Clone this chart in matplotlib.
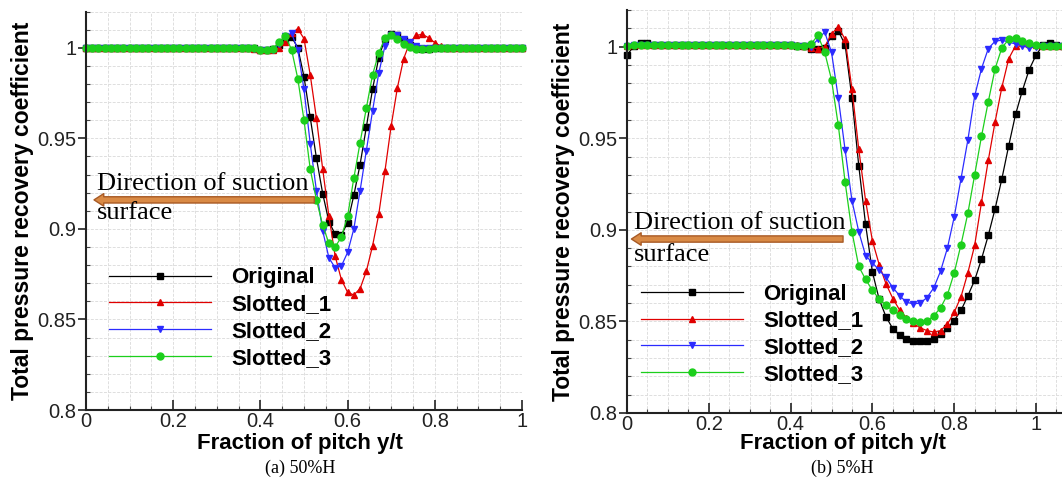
import numpy as np
import matplotlib
matplotlib.use("Agg")
import matplotlib.pyplot as plt
from matplotlib.ticker import MultipleLocator, FixedLocator, FixedFormatter
from matplotlib.patches import FancyArrowPatch

plt.rcParams['font.family'] = ['Liberation Sans', 'DejaVu Sans']

# ---------------- data: (a) 50%H ----------------
x_a = np.linspace(0.0, 1.0, 71)
orig_a = [1.000, 1.000, 1.000, 1.000, 1.000, 1.000, 1.000, 1.000, 1.000, 1.000,
          1.000, 1.000, 1.000, 1.000, 1.000, 1.000, 1.000, 1.000, 1.000, 1.000,
          1.000, 1.000, 1.000, 1.000, 1.000, 1.000, 1.000, 0.9998, 0.9990, 0.9986,
          0.9993, 1.0015, 1.0045, 1.0060, 1.0000, 0.9840, 0.9615, 0.9390, 0.9195, 0.9040,
          0.8970, 0.8965, 0.9035, 0.9185, 0.9355, 0.9560, 0.9770, 0.9945, 1.0050, 1.0078,
          1.0070, 1.0040, 1.0015, 1.0000, 0.9995, 0.9995, 0.9998, 1.000, 1.000, 1.000,
          1.000, 1.000, 1.000, 1.000, 1.000, 1.000, 1.000, 1.000, 1.000, 1.000, 1.000]
slot1_a = [1.000, 1.000, 1.000, 1.000, 1.000, 1.000, 1.000, 1.000, 1.000, 1.000,
           1.000, 1.000, 1.000, 1.000, 1.000, 1.000, 1.000, 1.000, 1.000, 1.000,
           1.000, 1.000, 1.000, 1.000, 1.000, 1.000, 0.9998, 0.9995, 0.9988, 0.9985,
           0.9988, 0.9998, 1.0030, 1.0080, 1.0105, 1.0050, 0.9850, 0.9610, 0.9330, 0.9070,
           0.8850, 0.8720, 0.8650, 0.8635, 0.8670, 0.8765, 0.8905, 0.9080, 0.9320, 0.9570,
           0.9780, 0.9940, 1.0030, 1.0068, 1.0074, 1.0055, 1.0028, 1.0008, 1.000, 1.000,
           1.000, 1.000, 1.000, 1.000, 1.000, 1.000, 1.000, 1.000, 1.000, 1.000, 1.000]
slot2_a = [1.000, 1.000, 1.000, 1.000, 1.000, 1.000, 1.000, 1.000, 1.000, 1.000,
           1.000, 1.000, 1.000, 1.000, 1.000, 1.000, 1.000, 1.000, 1.000, 1.000,
           1.000, 1.000, 1.000, 1.000, 1.000, 1.000, 0.9998, 0.9995, 0.9988, 0.9985,
           0.9990, 1.0020, 1.0065, 1.0080, 0.9990, 0.9770, 0.9470, 0.9210, 0.8990, 0.8840,
           0.8785, 0.8795, 0.8870, 0.9000, 0.9210, 0.9430, 0.9650, 0.9860, 1.0010, 1.0072,
           1.0070, 1.0050, 1.0030, 1.0010, 1.0000, 0.9998, 1.000, 1.000, 1.000, 1.000,
           1.000, 1.000, 1.000, 1.000, 1.000, 1.000, 1.000, 1.000, 1.000, 1.000, 1.000]
slot3_a = [1.000, 1.000, 1.000, 1.000, 1.000, 1.000, 1.000, 1.000, 1.000, 1.000,
           1.000, 1.000, 1.000, 1.000, 1.000, 1.000, 1.000, 1.000, 1.000, 1.000,
           1.000, 1.000, 1.000, 1.000, 1.000, 1.000, 0.9998, 0.9996, 0.9990, 0.9988,
           0.9995, 1.0030, 1.0065, 0.9990, 0.9830, 0.9600, 0.9330, 0.9160, 0.9020, 0.8920,
           0.8900, 0.8955, 0.9070, 0.9280, 0.9475, 0.9665, 0.9850, 0.9970, 1.0055, 1.0070,
           1.0050, 1.0020, 1.0005, 0.9995, 0.9993, 0.9995, 1.000, 1.000, 1.000, 1.000,
           1.000, 1.000, 1.000, 1.000, 1.000, 1.000, 1.000, 1.000, 1.000, 1.000, 1.000]

# ---------------- data: (b) 5%H ----------------
x_b = np.arange(65) / 60.0
orig_b = [0.9955, 1.0002, 1.0018, 1.0018, 1.0010, 1.0008, 1.0008, 1.0008, 1.0008, 1.0008,
          1.0008, 1.0008, 1.0008, 1.0008, 1.0008, 1.0008, 1.0008, 1.0008, 1.0008, 1.0008,
          1.0008, 1.0008, 1.0008, 1.0008, 1.0007, 1.0006, 1.0002, 0.9988, 0.9985, 0.9992,
          1.0060, 1.0087, 1.0010, 0.9720, 0.9350, 0.9030, 0.8770, 0.8620, 0.8525, 0.8460,
          0.8425, 0.8405, 0.8395, 0.8392, 0.8395, 0.8405, 0.8430, 0.8465, 0.8505, 0.8560,
          0.8640, 0.8725, 0.8840, 0.8970, 0.9115, 0.9280, 0.9460, 0.9630, 0.9760, 0.9875,
          0.9954, 1.0008, 1.0018, 1.0012, 1.0005]
slot1_b = [1.0005, 1.0008, 1.0010, 1.0010, 1.0010, 1.0010, 1.0010, 1.0010, 1.0010, 1.0010,
           1.0010, 1.0010, 1.0010, 1.0010, 1.0010, 1.0010, 1.0010, 1.0010, 1.0010, 1.0010,
           1.0010, 1.0010, 1.0010, 1.0010, 1.0009, 1.0008, 1.0005, 0.9995, 0.9990, 1.0000,
           1.0070, 1.0108, 1.0040, 0.9770, 0.9440, 0.9160, 0.8940, 0.8810, 0.8705, 0.8625,
           0.8562, 0.8520, 0.8490, 0.8465, 0.8450, 0.8442, 0.8450, 0.8485, 0.8550, 0.8635,
           0.8765, 0.8915, 0.9150, 0.9380, 0.9590, 0.9780, 0.9935, 1.0005, 1.0018, 1.0015,
           1.0008, 1.0005, 1.0005, 1.0005, 1.0005]
slot2_b = [1.0005, 1.0008, 1.0008, 1.0008, 1.0008, 1.0008, 1.0008, 1.0008, 1.0008, 1.0008,
           1.0008, 1.0008, 1.0008, 1.0008, 1.0008, 1.0008, 1.0008, 1.0008, 1.0008, 1.0008,
           1.0008, 1.0008, 1.0008, 1.0008, 1.0007, 1.0006, 1.0005, 1.0000, 1.0040, 1.0080,
           0.9970, 0.9720, 0.9435, 0.9160, 0.8990, 0.8860, 0.8820, 0.8780, 0.8740, 0.8685,
           0.8640, 0.8605, 0.8596, 0.8600, 0.8630, 0.8683, 0.8775, 0.8900, 0.9070, 0.9280,
           0.9490, 0.9730, 0.9880, 0.9990, 1.0030, 1.0036, 1.0025, 1.0015, 1.0005, 0.9995,
           1.0000, 1.0005, 1.0005, 1.0005, 1.0005]
slot3_b = [1.0004, 1.0008, 1.0008, 1.0008, 1.0008, 1.0008, 1.0008, 1.0008, 1.0008, 1.0008,
           1.0008, 1.0008, 1.0008, 1.0008, 1.0008, 1.0008, 1.0008, 1.0008, 1.0008, 1.0008,
           1.0008, 1.0008, 1.0008, 1.0008, 1.0007, 1.0005, 1.0002, 1.0015, 1.0062, 0.9970,
           0.9820, 0.9570, 0.9260, 0.8990, 0.8800, 0.8730, 0.8670, 0.8622, 0.8588, 0.8560,
           0.8535, 0.8516, 0.8500, 0.8496, 0.8503, 0.8530, 0.8575, 0.8645, 0.8765, 0.8920,
           0.9090, 0.9300, 0.9510, 0.9700, 0.9880, 0.9995, 1.0040, 1.0045, 1.0033, 1.0020,
           1.0008, 1.0005, 1.0005, 1.0005, 1.0005]

labels = ['Original', 'Slotted_1', 'Slotted_2', 'Slotted_3']
xtick_vals = [0.0, 0.2, 0.4, 0.6, 0.8, 1.0]
xtick_labels = ['0', '0.2', '0.4', '0.6', '0.8', '1']
ytick_vals = [0.80, 0.85, 0.90, 0.95, 1.00]
ytick_labels = ['0.8', '0.85', '0.9', '0.95', '1']

styles = [dict(color='#000000', marker='s', ms=4.2),
          dict(color='#e00000', marker='^', ms=4.5),
          dict(color='#2b2bff', marker='v', ms=4.5),
          dict(color='#1ccf1c', marker='o', ms=5.0)]

W, H = 1062, 488
fig = plt.figure(figsize=(W / 100, H / 100), dpi=100)


def px_axes(x0, x1, y_bot, y_top):
    return fig.add_axes([x0 / W, 1 - y_bot / H, (x1 - x0) / W, (y_bot - y_top) / H])


def style_axes(ax, xmax):
    ax.set_xlim(0, xmax)
    ax.set_ylim(0.8, 1.02)
    ax.xaxis.set_major_locator(FixedLocator(xtick_vals))
    ax.xaxis.set_major_formatter(FixedFormatter(xtick_labels))
    ax.yaxis.set_major_locator(FixedLocator(ytick_vals))
    ax.yaxis.set_major_formatter(FixedFormatter(ytick_labels))
    ax.xaxis.set_minor_locator(MultipleLocator(0.05))
    ax.yaxis.set_minor_locator(MultipleLocator(0.01))
    ax.grid(which='both', color='#dedede', lw=0.7, ls=(0, (3, 1.5)))
    ax.set_axisbelow(True)
    for s in ['top', 'right']:
        ax.spines[s].set_visible(False)
    for s in ['left', 'bottom']:
        ax.spines[s].set_linewidth(1.5)
        ax.spines[s].set_color('#222222')
    ax.tick_params(axis='x', which='major', direction='in', length=7, width=1.2,
                   labelsize=14.5, pad=1.5, colors='#222222')
    ax.tick_params(axis='y', which='major', direction='out', length=6, width=1.2,
                   labelsize=14.5, pad=1, colors='#222222')
    ax.tick_params(which='minor', direction='in', length=3, width=0.8, colors='#444444')
    ax.set_xlabel('Fraction of pitch y/t', fontsize=16, fontweight='bold')
    ax.set_ylabel('Total pressure recovery coefficient', fontsize=16.5, fontweight='bold')
    ax.yaxis.label.set_va('center')
    ax.xaxis.label.set_va('center')


def draw(ax, x, series):
    for y, lab, st in zip(series, labels, styles):
        ax.plot(x, y, lw=0.9, color=st['color'], marker=st['marker'], ms=st['ms'],
                mec=st['color'], mfc=st['color'], label=lab, clip_on=False)


def arrow_and_text(ax, x_tail, x_head, y_arrow, x_text, y_t1, y_t2):
    arr = FancyArrowPatch((x_tail, y_arrow), (x_head, y_arrow),
                          arrowstyle='simple,head_length=0.7,head_width=0.9,tail_width=0.45',
                          mutation_scale=10, fc='#d98a45', ec='#a85a25', lw=1.0, zorder=5)
    ax.add_patch(arr)
    ax.text(x_text, y_t1, 'Direction of suction', family=['Liberation Serif'],
            fontsize=19, va='center', ha='left', zorder=6)
    ax.text(x_text, y_t2, 'surface', family=['Liberation Serif'],
            fontsize=19, va='center', ha='left', zorder=6)


legend_kw = dict(loc='upper left', frameon=False, borderaxespad=0, borderpad=0,
                 handlelength=4.6, handletextpad=0.9, labelspacing=0.26,
                 prop=dict(family='Liberation Sans', weight='bold', size=16))

# ---- panel (a)
axa = px_axes(86, 522, 410, 11.5)
style_axes(axa, 1.0)
draw(axa, x_a, [orig_a, slot1_a, slot2_a, slot3_a])
arrow_and_text(axa, 0.53, 0.012, 0.9160, 0.025, 0.9245, 0.9085)
axa.legend(bbox_to_anchor=(0.053, 0.358), **legend_kw)
axa.yaxis.set_label_coords(-0.145, 0.5)
axa.xaxis.set_label_coords(0.49, -0.083)

# ---- panel (b)
axb = px_axes(627, 627 + 409 * 1.1, 413, 10.1)
style_axes(axb, 1.1)
draw(axb, x_b, [orig_b, slot1_b, slot2_b, slot3_b])
arrow_and_text(axb, 0.535, 0.004, 0.8950, 0.017, 0.9035, 0.8865)
axb.legend(bbox_to_anchor=(0.031, 0.321), **legend_kw)
axb.yaxis.set_label_coords(-0.142, 0.5)
axb.xaxis.set_label_coords(0.48, -0.075)

fig.text(300 / W, 1 - 468 / H, '(a) 50%H', family=['Liberation Serif'], fontsize=13,
         ha='center', va='center')
fig.text(842 / W, 1 - 468 / H, '(b) 5%H', family=['Liberation Serif'], fontsize=13,
         ha='center', va='center')

fig.savefig('out.png', dpi=100)
